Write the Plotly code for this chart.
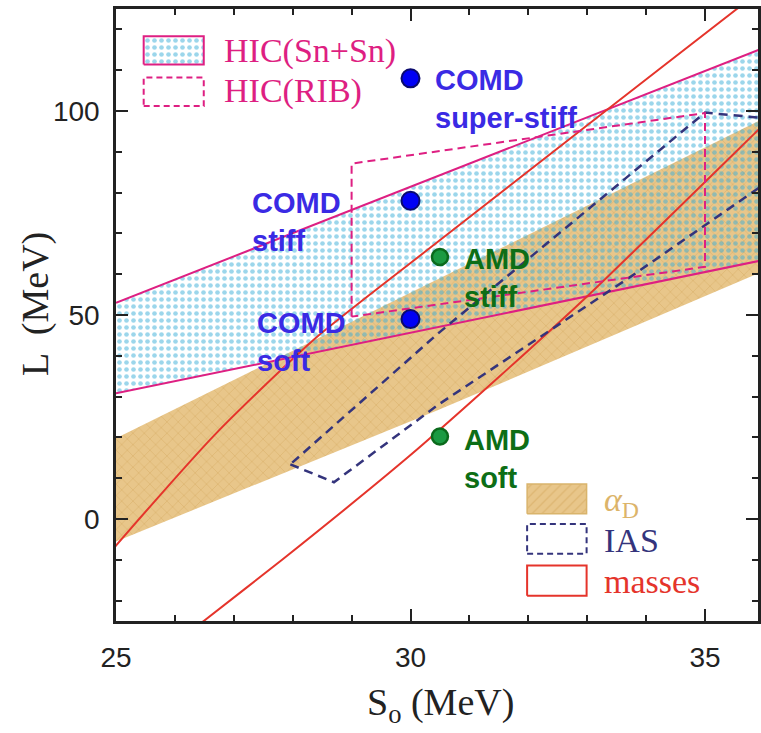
import plotly.graph_objects as go

# ---------------- data ----------------
# HIC(Sn+Sn) band edges (straight lines)
hic_S = [25.0, 36.0]
hic_upper_L = [53.0, 115.5]
hic_lower_L = [30.8, 63.5]

# HIC(RIB) dashed contour
rib_S = [29.0, 29.0, 35.0, 35.0, 29.0]
rib_L = [49.6, 87.1, 99.5, 61.8, 49.6]

# alpha_D band
alphaD_S = [25.0, 30.47, 36.0]
alphaD_upper_L = [19.8, 58.8, 98.2]
alphaD_lower_L = [-5.5, 26.7, 60.8]

# IAS dashed contour
ias_S = [27.96, 28.70, 30.47, 33.74, 36.2, 36.2, 35.0, 30.47, 27.96]
ias_L = [13.4, 9.0, 28.0, 59.4, 84.0, 98.0, 99.6, 45.5, 13.4]

# masses band edges
masses_upper_S = [24.9, 25.0, 26.7, 28.4, 30.47, 33.0, 35.54, 36.0]
masses_upper_L = [-8.2, -6.5, 21.0, 44.5, 68.0, 96.5, 125.0, 130.0]
masses_lower_S = [26.3, 26.49, 27.82, 29.97, 31.5, 33.06, 35.9, 36.0]
masses_lower_L = [-27.2, -25.0, -10.0, 15.3, 34.8, 55.4, 95.3, 96.7]

# transport-model points
comd_S = [30.0, 30.0, 30.0]
comd_L = [108.0, 78.0, 49.0]
comd_labels = ["COMD<br>super-stiff", "COMD<br>stiff", "COMD<br>soft"]
amd_S = [30.5, 30.5]
amd_L = [64.2, 20.2]
amd_labels = ["AMD<br>stiff", "AMD<br>soft"]

# legend entries
legend_top = ["HIC(Sn+Sn)", "HIC(RIB)"]
legend_bottom = ["<i>α</i><sub>D</sub>", "IAS", "masses"]

# ---------------- styles ----------------
PINK = "#de1f82"
RED = "#e5342b"
NAVY = "#34347c"
TAN = "#e8c68a"
TAN_DARK = "#d2a55a"
CYAN = "#3aaed8"
BLUE_TXT = "#3a2ae4"
GREEN_TXT = "#0d6e16"
AX = "#222222"
SERIF = "Liberation Serif"
SANS = "Liberation Sans"

fig = go.Figure()

def band(S, up, lo):
    return list(S) + list(S)[::-1], list(up) + list(lo)[::-1]

# alpha_D band
bx, by = band(alphaD_S, alphaD_upper_L, alphaD_lower_L)
fig.add_trace(go.Scatter(
    x=bx, y=by, mode="none", fill="toself", fillcolor=TAN,
    fillpattern=dict(shape="x", bgcolor=TAN, fgcolor=TAN_DARK, size=8, solidity=0.18),
    hoverinfo="skip", showlegend=False))

# HIC band (dotted)
hx, hy = band(hic_S, hic_upper_L, hic_lower_L)
fig.add_trace(go.Scatter(
    x=hx, y=hy, mode="none", fill="toself", fillcolor="rgba(0,0,0,0)",
    fillpattern=dict(shape=".", bgcolor="rgba(0,0,0,0)", fgcolor=CYAN, size=7, solidity=0.35),
    hoverinfo="skip", showlegend=False))

# HIC edges
for yy in (hic_upper_L, hic_lower_L):
    fig.add_trace(go.Scatter(x=hic_S, y=yy, mode="lines",
                             line=dict(color=PINK, width=2), hoverinfo="skip", showlegend=False))

# masses edges
fig.add_trace(go.Scatter(x=masses_upper_S, y=masses_upper_L, mode="lines",
                         line=dict(color=RED, width=2, shape="spline", smoothing=0.6),
                         hoverinfo="skip", showlegend=False))
fig.add_trace(go.Scatter(x=masses_lower_S, y=masses_lower_L, mode="lines",
                         line=dict(color=RED, width=2, shape="spline", smoothing=0.6),
                         hoverinfo="skip", showlegend=False))

# IAS contour
fig.add_trace(go.Scatter(x=ias_S, y=ias_L, mode="lines",
                         line=dict(color=NAVY, width=2.5, dash="9px,6px"),
                         hoverinfo="skip", showlegend=False))

# RIB contour
fig.add_trace(go.Scatter(x=rib_S, y=rib_L, mode="lines",
                         line=dict(color=PINK, width=2, dash="8px,5px"),
                         hoverinfo="skip", showlegend=False))

# points
fig.add_trace(go.Scatter(x=comd_S, y=comd_L, mode="markers",
                         marker=dict(size=18, color="#0000f5", line=dict(color="#0a0a6e", width=2)),
                         hoverinfo="skip", showlegend=False))
fig.add_trace(go.Scatter(x=amd_S, y=amd_L, mode="markers",
                         marker=dict(size=16, color="#1b9a42", line=dict(color="#0b6a1c", width=2.5)),
                         hoverinfo="skip", showlegend=False))

# point labels
label_pos_comd = [(30.39, 102.9), (27.28, 72.8), (27.36, 43.5)]
for (sx, ly), t in zip(label_pos_comd, comd_labels):
    fig.add_annotation(x=sx, y=ly, text="<b>" + t + "</b>", showarrow=False,
                       xanchor="left", yanchor="middle", align="left",
                       font=dict(family=SANS, size=29, color=BLUE_TXT))
label_pos_amd = [(30.87, 59.0), (30.87, 14.8)]
for (sx, ly), t in zip(label_pos_amd, amd_labels):
    fig.add_annotation(x=sx, y=ly, text="<b>" + t + "</b>", showarrow=False,
                       xanchor="left", yanchor="middle", align="left",
                       font=dict(family=SANS, size=29, color=GREEN_TXT))

# ---------------- legend swatches ----------------
def rect(x0, x1, y0, y1):
    return [x0, x1, x1, x0, x0], [y0, y0, y1, y1, y0]

# top-left legend
rx, ry = rect(25.47, 26.49, 111.4, 118.3)
fig.add_trace(go.Scatter(x=rx, y=ry, mode="lines", fill="toself", fillcolor="rgba(0,0,0,0)",
                         fillpattern=dict(shape=".", bgcolor="rgba(0,0,0,0)", fgcolor=CYAN, size=7, solidity=0.35),
                         line=dict(color=PINK, width=2), hoverinfo="skip", showlegend=False))
rx, ry = rect(25.47, 26.49, 101.2, 108.2)
fig.add_trace(go.Scatter(x=rx, y=ry, mode="lines",
                         line=dict(color=PINK, width=2, dash="6px,4px"), hoverinfo="skip", showlegend=False))
for ly, t in zip([114.6, 104.8], legend_top):
    fig.add_annotation(x=26.8, y=ly, text=t, showarrow=False, xanchor="left", yanchor="middle",
                       font=dict(family=SERIF, size=34, color=PINK))

# bottom-right legend
rx, ry = rect(31.98, 32.99, 1.3, 8.6)
fig.add_trace(go.Scatter(x=rx, y=ry, mode="lines", fill="toself", fillcolor=TAN,
                         fillpattern=dict(shape="/", bgcolor=TAN, fgcolor=TAN_DARK, size=7, solidity=0.18),
                         line=dict(color="#d9b46c", width=1.5), hoverinfo="skip", showlegend=False))
rx, ry = rect(31.98, 32.99, -8.5, -1.2)
fig.add_trace(go.Scatter(x=rx, y=ry, mode="lines",
                         line=dict(color=NAVY, width=2, dash="6px,4px"), hoverinfo="skip", showlegend=False))
rx, ry = rect(31.98, 32.99, -18.8, -11.4)
fig.add_trace(go.Scatter(x=rx, y=ry, mode="lines",
                         line=dict(color=RED, width=2), hoverinfo="skip", showlegend=False))
for ly, t, c in zip([4.2, -5.2, -15.4], legend_bottom, ["#dcb46a", NAVY, RED]):
    fig.add_annotation(x=33.25, y=ly, text=t, showarrow=False, xanchor="left", yanchor="middle",
                       font=dict(family=SERIF, size=34, color=c))

# axis titles
fig.add_annotation(xref="paper", yref="paper", x=0.5, y=0, yshift=-84, xshift=3,
                   text="S<sub>o</sub> (MeV)", showarrow=False, xanchor="center", yanchor="middle",
                   font=dict(family=SERIF, size=38, color=AX))
fig.add_annotation(xref="paper", yref="paper", x=0, y=0.518, xshift=-80,
                   text="L  (MeV)", textangle=-90, showarrow=False, xanchor="center", yanchor="middle",
                   font=dict(family=SERIF, size=38, color=AX))

axis_common = dict(showline=True, linewidth=2.5, linecolor=AX, mirror="ticks",
                   ticks="inside", ticklen=12, tickwidth=2, tickcolor=AX,
                   showgrid=False, zeroline=False,
                   tickfont=dict(family=SANS, size=28, color=AX))

fig.update_xaxes(range=[25, 35.9], tick0=25, dtick=5,
                 minor=dict(dtick=1, ticks="inside", ticklen=6, tickwidth=1.5, tickcolor=AX),
                 ticklabelstandoff=10, **axis_common)
fig.update_yaxes(range=[-25, 125], tick0=0, dtick=50,
                 minor=dict(dtick=10, ticks="inside", ticklen=6, tickwidth=1.5, tickcolor=AX),
                 ticklabelstandoff=8, **axis_common)

fig.update_layout(width=761, height=733, margin=dict(l=116, r=0, t=9, b=112),
                  plot_bgcolor="white", paper_bgcolor="white", showlegend=False)

fig.write_html("out.html")
